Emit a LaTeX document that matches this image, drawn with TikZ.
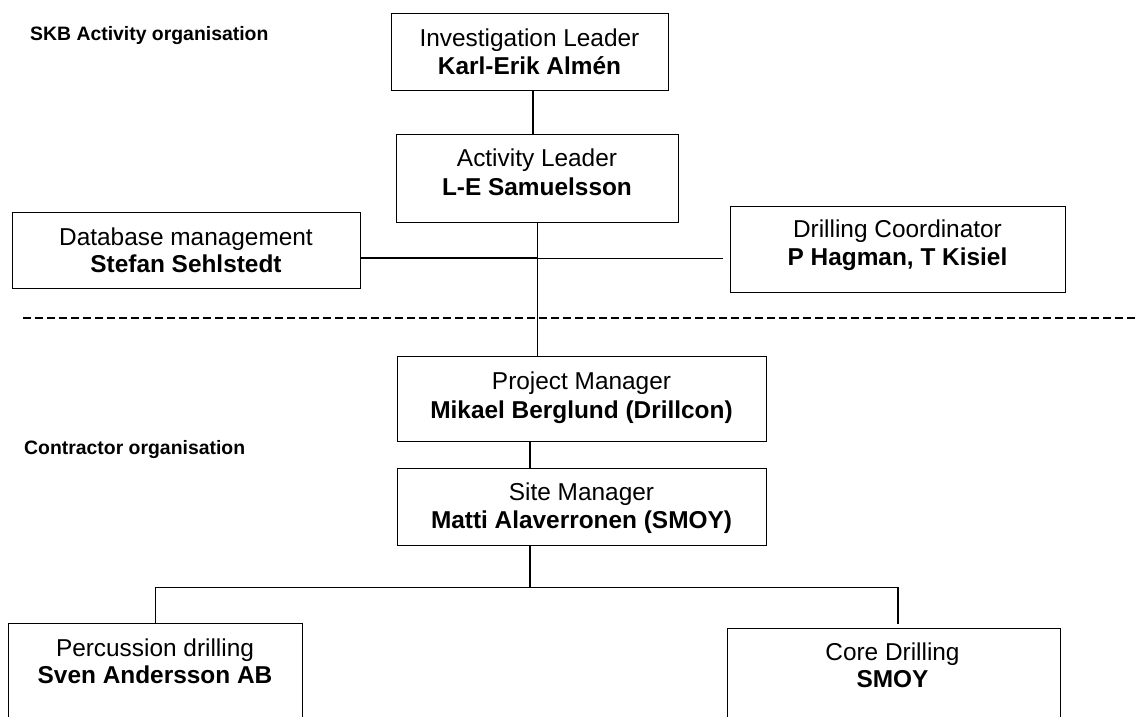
\documentclass[tikz,border=0pt]{standalone}
\usepackage{fontspec}
\setmainfont{Liberation Sans}
\begin{document}
\begin{tikzpicture}[x=1pt,y=-1pt]
\tikzset{
  box/.style={draw, line width=1.4pt, rectangle, anchor=north west, inner sep=0pt},
  reg/.style={font=\fontsize{24.4}{28}\selectfont, anchor=base, inner sep=0pt},
  bld/.style={font=\fontsize{24.4}{28}\selectfont\bfseries, anchor=base, inner sep=0pt},
  lbl/.style={font=\fontsize{19.4}{23}\selectfont\bfseries, anchor=base west, inner sep=0pt},
  conn/.style={line width=1.3pt},
  sep/.style={line width=1.3pt, dash pattern=on 8pt off 4pt},
}
\useasboundingbox (0,0) rectangle (1136,717);
\clip (0,0) rectangle (1136,717);

% section labels
\node[lbl] (skb) at (30,40.7) {SKB Activity organisation};
\node[lbl] (con) at (24,454.3) {Contractor organisation};

% boxes
\node[box, minimum width=277pt, minimum height=77pt] (il) at (391,13) {};
\node[reg] (il1) at (529.5,46.7) {Investigation Leader};
\node[bld] (il2) at (529.5,74.5) {Karl-Erik Almén};

\node[box, minimum width=282pt, minimum height=88pt] (al) at (396,134) {};
\node[reg] (al1) at (537,166.7) {Activity Leader};
\node[bld] (al2) at (537,195) {L-E Samuelsson};

\node[box, minimum width=348pt, minimum height=76pt] (db) at (12,212) {};
\node[reg] (db1) at (186,245) {Database management};
\node[bld] (db2) at (186,272.5) {Stefan Sehlstedt};

\node[box, minimum width=335pt, minimum height=86pt] (dc) at (730,206) {};
\node[reg] (dc1) at (897.5,237.3) {Drilling Coordinator};
\node[bld] (dc2) at (897.5,265) {P Hagman, T Kisiel};

\node[box, minimum width=369pt, minimum height=85pt] (pm) at (397,356) {};
\node[reg] (pm1) at (581.5,389.3) {Project Manager};
\node[bld] (pm2) at (581.5,418.3) {Mikael Berglund (Drillcon)};

\node[box, minimum width=369pt, minimum height=77pt] (sm) at (397,468) {};
\node[reg] (sm1) at (581.5,500) {Site Manager};
\node[bld] (sm2) at (581.5,528.3) {Matti Alaverronen (SMOY)};

\node[box, minimum width=294pt, minimum height=140pt] (pd) at (8,623) {};
\node[reg] (pd1) at (155,656) {Percussion drilling};
\node[bld] (pd2) at (155,683.7) {Sven Andersson AB};

\node[box, minimum width=333pt, minimum height=140pt] (cd) at (727,628) {};
\node[reg] (cd1) at (892.5,660) {Core Drilling};
\node[bld] (cd2) at (892.5,687.7) {SMOY};

% helper coordinates
\coordinate (ilx) at (533,0);
\coordinate (hy) at (0,258);
\coordinate (hr1) at (502,258.8);
\coordinate (hr2) at (723,258.8);
\coordinate (dl) at (23,318);
\coordinate (dr) at (1140,318);
\coordinate (mx) at (530,0);
\coordinate (bar) at (530,587.5);
\coordinate (cdx) at (898,0);
\coordinate (cdtop) at (898,623.5);

% connectors
\draw[conn] (il.south -| ilx) -- (al.north -| ilx);
\draw[conn] (al.south) -- (al.south |- pm.north);
\draw[conn] (db.east |- hy) -- (al.south |- hy);
\draw[conn] (hr1) -- (hr2);
\draw[sep] (dl) -- (dr);
\draw[conn] (pm.south -| mx) -- (sm.north -| mx);
\draw[conn] (sm.south -| mx) -- (bar);
\draw[conn, line join=miter] (pd.north) -- (pd.north |- bar) -- (cdx |- bar) -- (cdtop);
\end{tikzpicture}
\end{document}
